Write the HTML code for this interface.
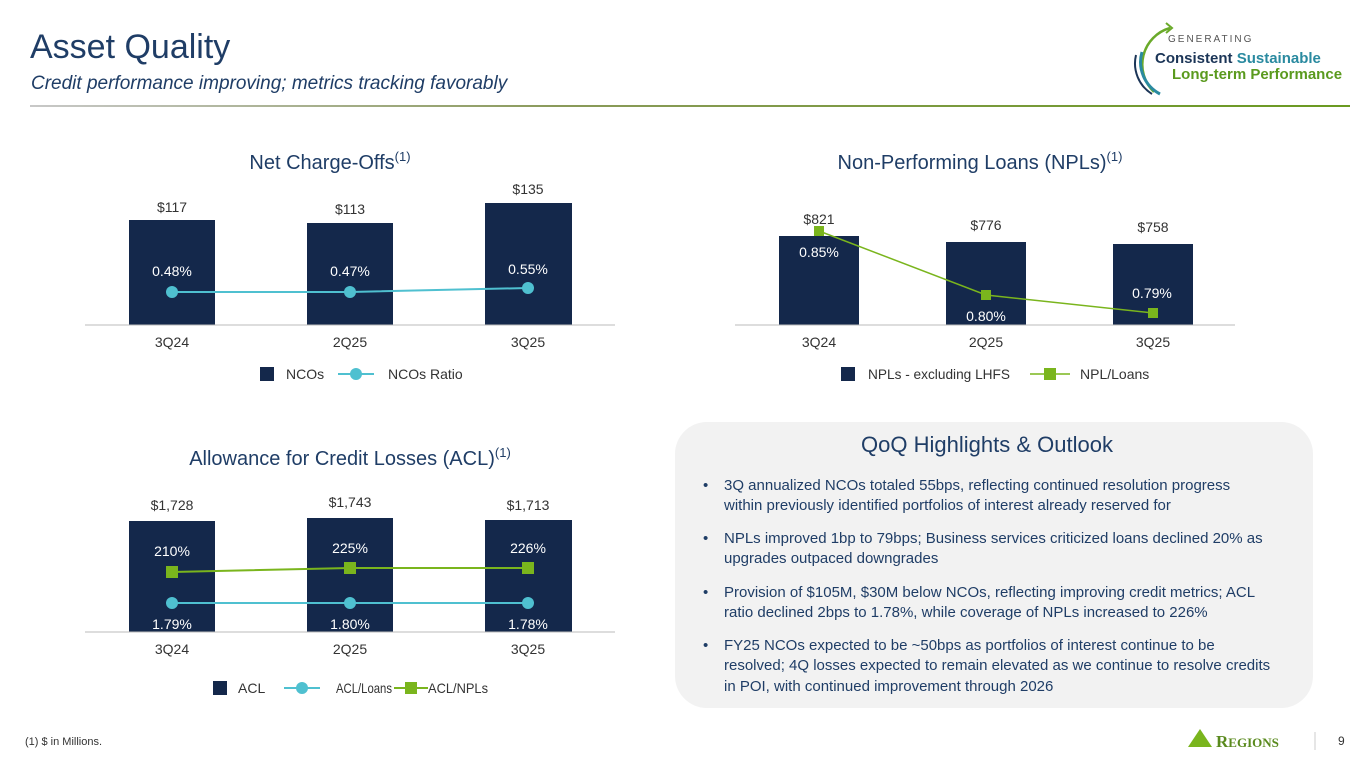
<!DOCTYPE html><html><head><style>
body{margin:0;width:1365px;height:768px;background:#fff;font-family:"Liberation Sans",sans-serif;overflow:hidden;position:relative}
.a{position:absolute}
</style></head><body>
<div class="a" style="left:30px;top:28px;font-size:34px;color:#1f3d66">Asset Quality</div>
<div class="a" style="left:31px;top:73px;font-size:19px;font-style:italic;color:#1f3d66">Credit performance improving; metrics tracking favorably</div>
<div class="a" style="left:30px;top:105px;width:1320px;height:2px;background:linear-gradient(90deg,#c8c8c8,#8a9a5a 40%,#6a9a20)"></div>
<div class="a" style="left:1168px;top:34px;font-size:10px;letter-spacing:2px;color:#555">GENERATING</div>
<div class="a" style="left:1155px;top:50px;font-size:15px;font-weight:bold;color:#1b3557">Consistent <span style="color:#2a8aa0">Sustainable</span></div>
<div class="a" style="left:1172px;top:66px;font-size:15px;font-weight:bold;color:#5a9a1e">Long-term Performance</div>
<svg class="a" style="left:1130px;top:20px" width="60" height="80"><path d="M40 8 A38 38 0 0 0 24 72" fill="none" stroke="#6aaa2a" stroke-width="2.5"/><path d="M12 32 A36 36 0 0 0 30 74" fill="none" stroke="#2a8aa0" stroke-width="3"/><path d="M6 35 A36 36 0 0 0 22 74" fill="none" stroke="#1b3557" stroke-width="2"/><path d="M36 3 L42 8 L36 13" fill="none" stroke="#6aaa2a" stroke-width="2"/></svg>
<svg class="a" style="left:0;top:0" width="1365" height="768" font-family="Liberation Sans, sans-serif">
<g font-size="20" fill="#1f3d66" text-anchor="middle">
<text x="330" y="169">Net Charge-Offs<tspan font-size="13" dy="-8">(1)</tspan></text>
<text x="980" y="169">Non-Performing Loans (NPLs)<tspan font-size="13" dy="-8">(1)</tspan></text>
<text x="350" y="465">Allowance for Credit Losses (ACL)<tspan font-size="13" dy="-8">(1)</tspan></text>
</g>
<g fill="#14284b">
<rect x="129" y="220" width="86" height="105"/><rect x="307" y="223" width="86" height="102"/><rect x="485" y="203" width="87" height="122"/>
<rect x="779" y="236" width="80" height="89"/><rect x="946" y="242" width="80" height="83"/><rect x="1113" y="244" width="80" height="81"/>
<rect x="129" y="521" width="86" height="111"/><rect x="307" y="518" width="86" height="114"/><rect x="485" y="520" width="87" height="112"/>
</g>
<g stroke="#bbb"><line x1="85" y1="325" x2="615" y2="325"/><line x1="735" y1="325" x2="1235" y2="325"/><line x1="85" y1="632" x2="615" y2="632"/></g>
<polyline points="172,292 350,292 528,288" fill="none" stroke="#4fc0d0" stroke-width="2"/>
<g fill="#4fc0d0"><circle cx="172" cy="292" r="6"/><circle cx="350" cy="292" r="6"/><circle cx="528" cy="288" r="6"/>
<circle cx="172" cy="603" r="6"/><circle cx="350" cy="603" r="6"/><circle cx="528" cy="603" r="6"/></g>
<line x1="172" y1="603" x2="528" y2="603" stroke="#4fc0d0" stroke-width="2"/>
<polyline points="819,231 986,295 1153,313" fill="none" stroke="#7ab51d" stroke-width="1.5"/>
<polyline points="172,572 350,568 528,568" fill="none" stroke="#7ab51d" stroke-width="2"/>
<g fill="#7ab51d"><rect x="814" y="226" width="10" height="10"/><rect x="981" y="290" width="10" height="10"/><rect x="1148" y="308" width="10" height="10"/>
<rect x="166" y="566" width="12" height="12"/><rect x="344" y="562" width="12" height="12"/><rect x="522" y="562" width="12" height="12"/></g>
<g font-size="14" fill="#333" text-anchor="middle">
<text x="172" y="212">$117</text><text x="350" y="214">$113</text><text x="528" y="194">$135</text>
<text x="819" y="224">$821</text><text x="986" y="230">$776</text><text x="1153" y="232">$758</text>
<text x="172" y="510">$1,728</text><text x="350" y="507">$1,743</text><text x="528" y="510">$1,713</text>
<text x="172" y="347">3Q24</text><text x="350" y="347">2Q25</text><text x="528" y="347">3Q25</text>
<text x="819" y="347">3Q24</text><text x="986" y="347">2Q25</text><text x="1153" y="347">3Q25</text>
<text x="172" y="654">3Q24</text><text x="350" y="654">2Q25</text><text x="528" y="654">3Q25</text>
</g>
<g font-size="14" fill="#fff" text-anchor="middle">
<text x="172" y="276">0.48%</text><text x="350" y="276">0.47%</text><text x="528" y="274">0.55%</text>
<text x="819" y="257">0.85%</text><text x="986" y="321">0.80%</text><text x="1152" y="298">0.79%</text>
<text x="172" y="556">210%</text><text x="350" y="553">225%</text><text x="528" y="553">226%</text>
<text x="172" y="629">1.79%</text><text x="350" y="629">1.80%</text><text x="528" y="629">1.78%</text>
</g>
<g font-size="14" fill="#333">
<rect x="260" y="367" width="14" height="14" fill="#14284b"/><text x="286" y="379">NCOs</text>
<line x1="338" y1="374" x2="374" y2="374" stroke="#4fc0d0" stroke-width="2"/><circle cx="356" cy="374" r="6" fill="#4fc0d0"/><text x="388" y="379">NCOs Ratio</text>
<rect x="841" y="367" width="14" height="14" fill="#14284b"/><text x="868" y="379" textLength="142" lengthAdjust="spacingAndGlyphs">NPLs - excluding LHFS</text>
<line x1="1030" y1="374" x2="1070" y2="374" stroke="#7ab51d" stroke-width="1.5"/><rect x="1044" y="368" width="12" height="12" fill="#7ab51d"/><text x="1080" y="379">NPL/Loans</text>
<rect x="213" y="681" width="14" height="14" fill="#14284b"/><text x="238" y="693">ACL</text>
<line x1="284" y1="688" x2="320" y2="688" stroke="#4fc0d0" stroke-width="2"/><circle cx="302" cy="688" r="6" fill="#4fc0d0"/><text x="336" y="693" textLength="56" lengthAdjust="spacingAndGlyphs">ACL/Loans</text>
<line x1="394" y1="688" x2="428" y2="688" stroke="#7ab51d" stroke-width="2"/><rect x="405" y="682" width="12" height="12" fill="#7ab51d"/><text x="428" y="693" textLength="60" lengthAdjust="spacingAndGlyphs">ACL/NPLs</text>
</g>
<rect x="675" y="422" width="638" height="286" rx="32" fill="#f2f2f2"/>
<text x="987" y="452" font-size="22" fill="#1f3d66" text-anchor="middle">QoQ Highlights &amp; Outlook</text>
<g font-size="15" fill="#1f3d66">
<text x="703" y="490">•</text><text x="724" y="490">3Q annualized NCOs totaled 55bps, reflecting continued resolution progress</text><text x="724" y="510">within previously identified portfolios of interest already reserved for</text>
<text x="703" y="543">•</text><text x="724" y="543">NPLs improved 1bp to 79bps; Business services criticized loans declined 20% as</text><text x="724" y="563">upgrades outpaced downgrades</text>
<text x="703" y="597">•</text><text x="724" y="597">Provision of $105M, $30M below NCOs, reflecting improving credit metrics; ACL</text><text x="724" y="617">ratio declined 2bps to 1.78%, while coverage of NPLs increased to 226%</text>
<text x="703" y="650">•</text><text x="724" y="650">FY25 NCOs expected to be ~50bps as portfolios of interest continue to be</text><text x="724" y="670">resolved; 4Q losses expected to remain elevated as we continue to resolve credits</text><text x="724" y="691">in POI, with continued improvement through 2026</text>
</g>
<text x="25" y="745" font-size="11" fill="#333">(1) $ in Millions.</text>
<polygon points="1188,747 1200,729 1212,747" fill="#7ab51d"/>
<text x="1216" y="747" font-size="17" font-family="Liberation Serif, serif" fill="#5a8a1e" font-weight="bold">R<tspan font-size="13">EGIONS</tspan></text>
<line x1="1315" y1="732" x2="1315" y2="750" stroke="#ccc"/>
<text x="1338" y="745" font-size="12" fill="#333">9</text>
</svg>
</body></html>
